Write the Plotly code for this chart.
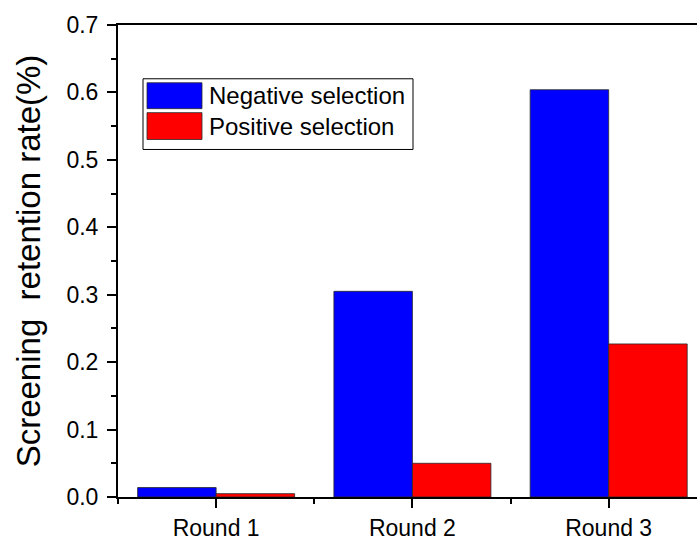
import plotly.graph_objects as go

rounds = ["Round 1", "Round 2", "Round 3"]
round_pos = [1, 2, 3]
negative = [0.014, 0.305, 0.604]
positive = [0.005, 0.050, 0.227]
series_names = ["Negative selection", "Positive selection"]
series_colors = ["#0000FF", "#FF0000"]
y_ticks = [0.0, 0.1, 0.2, 0.3, 0.4, 0.5, 0.6, 0.7]

FONT = "Liberation Sans, Arial, sans-serif"
W, H = 697, 541
ML, MR, MT, MB = 118, 0, 25, 42

fig = go.Figure()
for name, vals, col in zip(series_names, [negative, positive], series_colors):
    fig.add_trace(go.Bar(
        x=round_pos, y=vals, name=name,
        marker=dict(color=col, line=dict(color="rgba(40,40,40,0.8)", width=1)),
        showlegend=False,
    ))

fig.update_layout(
    width=W, height=H,
    margin=dict(l=ML, r=MR, t=MT, b=MB),
    paper_bgcolor="white", plot_bgcolor="white",
    barmode="group", bargap=0.2, bargroupgap=0,
    font=dict(family=FONT, color="black"),
    showlegend=False,
)
fig.update_xaxes(
    range=[0.5, 3.45],
    tickmode="array", tickvals=round_pos, ticktext=rounds,
    ticks="outside", ticklen=9, tickwidth=1.5, tickcolor="black",
    minor=dict(tickmode="array", tickvals=[0.5, 1.5, 2.5, 3.5], ticks="outside",
               ticklen=5, tickwidth=1.5, tickcolor="black"),
    showline=True, linecolor="black", linewidth=2, mirror=True,
    showgrid=False, zeroline=False,
    tickfont=dict(size=23, family=FONT, color="black"),
)
fig.update_yaxes(
    range=[0, 0.7],
    tickmode="array", tickvals=y_ticks, ticktext=[f"{v:.1f}" for v in y_ticks],
    ticks="outside", ticklen=9, tickwidth=1.5, tickcolor="black",
    minor=dict(tickmode="array", tickvals=[0.05, 0.15, 0.25, 0.35, 0.45, 0.55, 0.65],
               ticks="outside", ticklen=5, tickwidth=1.5, tickcolor="black"),
    showline=True, linecolor="black", linewidth=2,
    showgrid=False, zeroline=False,
    ticklabelstandoff=4,
    tickfont=dict(size=23, family=FONT, color="black"),
    title=dict(text="Screening  retention rate(%)", font=dict(size=33, family=FONT, color="black"),
               standoff=16),
)

# custom legend: paper coords are relative to plot area
PW = W - ML - MR
PH = H - MT - MB
def px(x):
    return (x - ML) / PW
def py(y):
    return 1 - (y - MT) / PH

fig.add_shape(type="rect", xref="paper", yref="paper",
              x0=px(143), x1=px(413), y0=py(79), y1=py(150),
              line=dict(color="black", width=1), fillcolor="white", layer="above")
sw_y = [(83, 109), (113, 140)]
for (y0, y1), name, col in zip(sw_y, series_names, series_colors):
    fig.add_shape(type="rect", xref="paper", yref="paper",
                  x0=px(147), x1=px(202), y0=py(y0), y1=py(y1),
                  line=dict(color="rgba(40,40,40,0.8)", width=1), fillcolor=col, layer="above")
    fig.add_annotation(xref="paper", yref="paper", x=px(207), y=py((y0 + y1) / 2),
                       text=name, showarrow=False, xanchor="left", yanchor="middle",
                       font=dict(size=24, family=FONT, color="black"))

fig.write_html("out.html", config={"displayModeBar": False},
               post_script="document.body.style.margin='0px';")
